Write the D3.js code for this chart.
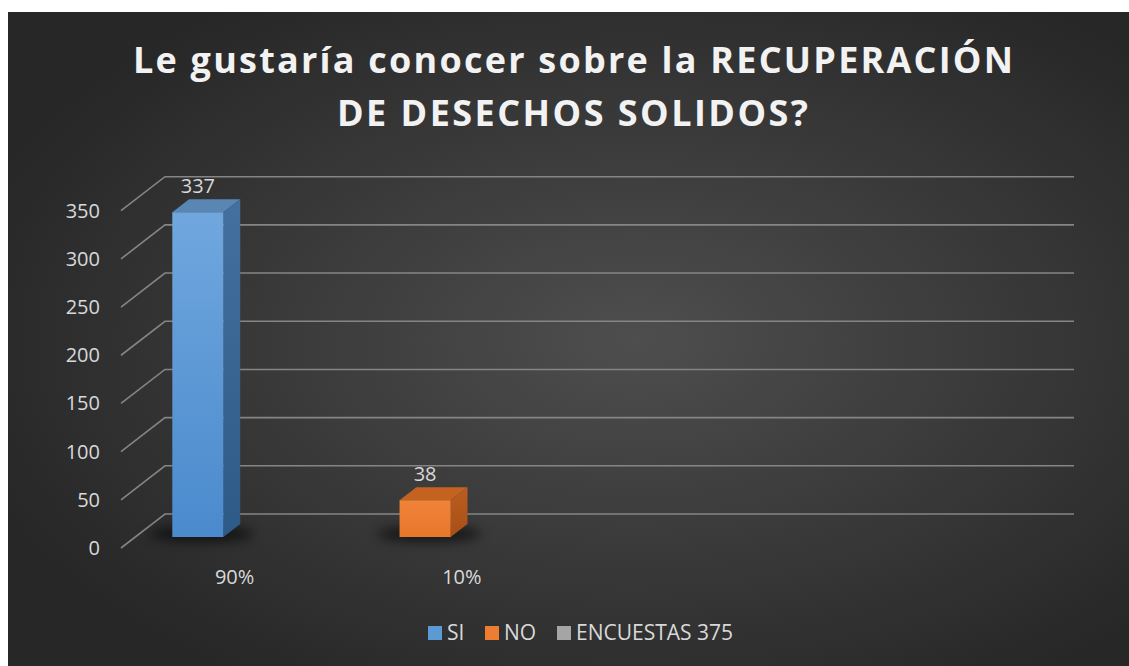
<!DOCTYPE html>
<html>
<head>
<meta charset="utf-8">
<script src="https://cdn.jsdelivr.net/npm/d3@7"></script>
<style>
  body { margin: 0; background: #ffffff; }
  svg { display: block; font-family: "Open Sans", sans-serif; }
</style>
</head>
<body>
<svg id="chart"></svg>
<script>
// chart data
const categories = ["90%", "10%", "", ""];
const barNames = ["SI", "NO"];
const barValues = [337, 38];
const barSlots = [0, 1]; // which category each bar sits in
const legendNames = ["SI", "NO", "ENCUESTAS 375"];
const yTicks = [0, 50, 100, 150, 200, 250, 300, 350];
const titleLines = ["Le gustaría conocer sobre la RECUPERACIÓN", "DE DESECHOS SOLIDOS?"];

const w = 1129, h = 666;
const depthX = -44, depthY = 34; // oblique offset from back wall to front of floor

// face colours for each bar
const faceColors = {
  SI: { front: ["#70a7de", "#4a8acd"], side: ["#44709f", "#2e5a87"], top: "#5a86b4" },
  NO: { front: ["#ef8338", "#e9772c"], side: ["#bb5d1f", "#a84f17"], top: "#c4631f" }
};
const legendColors = ["#5b9bd5", "#ed7d31", "#a5a5a5"];

let svg = d3.select("#chart").attr("width", w).attr("height", h);
let defs = svg.append("defs");

// background gradient
let bg = defs.append("radialGradient").attr("id", "bg")
  .attr("cx", "56%").attr("cy", "50%").attr("r", "62%");
bg.append("stop").attr("offset", "0%").attr("stop-color", "#4e4e4e");
bg.append("stop").attr("offset", "100%").attr("stop-color", "#272727");

svg.append("rect").attr("x", 8).attr("y", 12).attr("width", w - 8).attr("height", h - 12)
  .attr("fill", "url(#bg)");

let blur = defs.append("filter").attr("id", "shadow")
  .attr("x", "-50%").attr("y", "-200%").attr("width", "200%").attr("height", "500%");
blur.append("feGaussianBlur").attr("stdDeviation", 6);

barNames.forEach(name => {
  let c = faceColors[name];
  let g1 = defs.append("linearGradient").attr("id", "front" + name)
    .attr("x1", 0).attr("y1", 0).attr("x2", 0).attr("y2", 1);
  g1.append("stop").attr("offset", "0%").attr("stop-color", c.front[0]);
  g1.append("stop").attr("offset", "100%").attr("stop-color", c.front[1]);
  let g2 = defs.append("linearGradient").attr("id", "side" + name)
    .attr("x1", 0).attr("y1", 0).attr("x2", 0).attr("y2", 1);
  g2.append("stop").attr("offset", "0%").attr("stop-color", c.side[0]);
  g2.append("stop").attr("offset", "100%").attr("stop-color", c.side[1]);
});

// title
svg.append("g").selectAll("text")
  .data(titleLines)
  .enter()
  .append("text")
  .attr("x", (d, i) => i == 0 ? 573 : 572.5)
  .attr("y", (d, i) => 73 + i * 53)
  .attr("text-anchor", "middle")
  .attr("textLength", (d, i) => i == 0 ? 880 : 471)
  .attr("lengthAdjust", "spacing")
  .attr("fill", "#f2f2f2")
  .style("font-size", "36px")
  .style("font-weight", "bold")
  .text(d => d);

// scales (back wall coordinates)
let xScale = d3.scaleBand().domain(d3.range(categories.length)).range([165, 1074]);
let yScale = d3.scaleLinear().domain([0, 350]).range([514, 176.7]);

let proj = (x, y, d) => [x + depthX * d, y + depthY * d];

// gridlines: back wall + floor diagonal
let grid = svg.append("g").attr("stroke", "#858585").attr("stroke-width", 1.6).attr("fill", "none");
grid.selectAll("path")
  .data(yTicks)
  .enter()
  .append("path")
  .attr("d", v => {
    let y = yScale(v);
    let f = proj(165, y, 1);
    return "M" + f[0] + "," + f[1] + "L165," + y + "L1074," + y;
  });

// y tick labels
svg.append("g").selectAll("text")
  .data(yTicks)
  .enter()
  .append("text")
  .attr("x", 100)
  .attr("y", v => yScale(v) + depthY + 7)
  .attr("text-anchor", "end")
  .attr("fill", "#d9d9d9")
  .style("font-size", "20px")
  .text(v => v);

// category labels along the front edge
svg.append("g").selectAll("text")
  .data(categories)
  .enter()
  .append("text")
  .attr("x", (d, i) => xScale(i) + xScale.bandwidth() / 2 + depthX)
  .attr("y", 584)
  .attr("text-anchor", "middle")
  .attr("fill", "#d9d9d9")
  .style("font-size", "20px")
  .text(d => d);

// bars
const dFront = 0.676, dBack = 0.294;
let bars = barNames.map((name, i) => {
  let x0 = xScale(barSlots[i]) + xScale.bandwidth() * 0.163;
  let x1 = x0 + xScale.bandwidth() * 0.225;
  return { name: name, value: barValues[i], x0: x0, x1: x1 };
});

let pts = arr => arr.map(p => p.join(",")).join(" ");

let barG = svg.append("g").selectAll("g")
  .data(bars)
  .enter()
  .append("g");

// soft shadow on the floor
barG.append("ellipse")
  .attr("cx", d => proj((d.x0 + d.x1) / 2, yScale(0), dFront)[0] + 4)
  .attr("cy", d => proj(d.x0, yScale(0), dFront)[1] - 3)
  .attr("rx", 52)
  .attr("ry", 8)
  .attr("fill", "#000")
  .attr("opacity", 0.6)
  .attr("filter", "url(#shadow)");

barG.append("polygon") // top
  .attr("fill", d => faceColors[d.name].top)
  .attr("points", d => {
    let y = yScale(d.value);
    return pts([proj(d.x0, y, dFront), proj(d.x1, y, dFront), proj(d.x1, y, dBack), proj(d.x0, y, dBack)]);
  });

barG.append("polygon") // side
  .attr("fill", d => "url(#side" + d.name + ")")
  .attr("points", d => {
    let y = yScale(d.value), y0 = yScale(0);
    return pts([proj(d.x1, y, dFront), proj(d.x1, y, dBack), proj(d.x1, y0, dBack), proj(d.x1, y0, dFront)]);
  });

barG.append("polygon") // front
  .attr("fill", d => "url(#front" + d.name + ")")
  .attr("points", d => {
    let y = yScale(d.value), y0 = yScale(0);
    return pts([proj(d.x0, y, dFront), proj(d.x1, y, dFront), proj(d.x1, y0, dFront), proj(d.x0, y0, dFront)]);
  });

// value labels
barG.append("text")
  .attr("x", d => proj((d.x0 + d.x1) / 2, 0, dFront)[0])
  .attr("y", d => yScale(d.value) + depthY * dBack - 6)
  .attr("text-anchor", "middle")
  .attr("fill", "#d9d9d9")
  .style("font-size", "20px")
  .text(d => d.value);

// legend
const legendX = [428, 485, 557];
let legend = svg.append("g").selectAll("g")
  .data(legendNames)
  .enter()
  .append("g")
  .attr("transform", (d, i) => "translate(" + legendX[i] + ",626)");
legend.append("rect")
  .attr("width", 14).attr("height", 14)
  .attr("fill", (d, i) => legendColors[i]);
legend.append("text")
  .attr("x", 19).attr("y", 14)
  .attr("fill", "#d9d9d9")
  .style("font-size", "21px")
  .text(d => d);
</script>
</body>
</html>
